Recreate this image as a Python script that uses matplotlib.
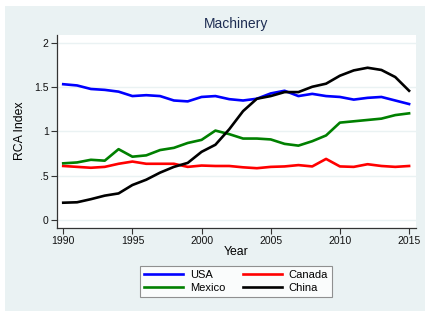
import matplotlib
matplotlib.use("Agg")
from matplotlib import pyplot as plt
from matplotlib.patches import Rectangle

years = list(range(1990, 2016))
usa = [1.534, 1.52, 1.48, 1.47, 1.45, 1.40, 1.41, 1.40, 1.35, 1.34, 1.39, 1.40, 1.365,
       1.35, 1.37, 1.43, 1.46, 1.40, 1.425, 1.40, 1.39, 1.36, 1.38, 1.39, 1.35, 1.31]
canada = [0.61, 0.60, 0.59, 0.60, 0.635, 0.66, 0.635, 0.635, 0.635, 0.60, 0.615, 0.61, 0.61,
          0.595, 0.585, 0.60, 0.605, 0.62, 0.605, 0.69, 0.605, 0.60, 0.63, 0.61, 0.60, 0.61]
mexico = [0.64, 0.65, 0.68, 0.67, 0.80, 0.715, 0.73, 0.79, 0.815, 0.87, 0.905, 1.01, 0.97,
          0.92, 0.92, 0.91, 0.86, 0.84, 0.89, 0.955, 1.10, 1.115, 1.13, 1.145, 1.185, 1.205]
china = [0.195, 0.20, 0.235, 0.275, 0.30, 0.395, 0.455, 0.535, 0.60, 0.645, 0.77, 0.85, 1.025,
         1.23, 1.37, 1.40, 1.445, 1.445, 1.505, 1.54, 1.63, 1.69, 1.72, 1.695, 1.615, 1.46]

yticks = [0, 0.5, 1, 1.5, 2]
ylabels = ["0", ".5", "1", "1.5", "2"]
xticks = [1990, 1995, 2000, 2005, 2010, 2015]

plt.rcParams['font.family'] = ['Liberation Sans', 'DejaVu Sans']
bg = '#EAF2F3'

W, H = 425, 311
fig = plt.figure(figsize=(W / 100, H / 100), dpi=100, facecolor='white')
fig.patches.append(Rectangle((5 / W, 0), 1 - 5 / W, 1 - 6 / H, transform=fig.transFigure,
                             facecolor=bg, edgecolor='none', zorder=-10))

ax = fig.add_axes([57 / W, 1 - 227.5 / H, (416 - 57) / W, (227.5 - 35) / H])
ax.set_facecolor('white')

for yv in yticks:
    ax.axhline(yv, color=bg, lw=1.0, zorder=0)

lw = 1.9
ax.plot(years, usa, color='#0000FF', lw=lw, label='USA')
ax.plot(years, canada, color='#FF0000', lw=lw, label='Canada')
ax.plot(years, mexico, color='#008000', lw=lw, label='Mexico')
ax.plot(years, china, color='black', lw=lw, label='China')

ax.set_xlim(1989.55, 2015.5)
ax.set_ylim(-0.085, 2.09)
ax.set_yticks(yticks)
ax.set_yticklabels(ylabels)
ax.set_xticks(xticks)

for s in ['top', 'right']:
    ax.spines[s].set_visible(False)
for s in ['left', 'bottom']:
    ax.spines[s].set_color('#333333')
    ax.spines[s].set_linewidth(0.9)
ax.tick_params(axis='both', length=4, width=0.8, color='#333333', labelsize=7.5,
               labelcolor='#111111', pad=2)

ax.set_title('Machinery', fontsize=10, color='#1E2D53', pad=5)
ax.set_xlabel('Year', fontsize=8.8, labelpad=0)
ax.set_ylabel('RCA Index', fontsize=8.8, labelpad=6)

handles, labels = ax.get_legend_handles_labels()
order = [0, 2, 1, 3]
leg = fig.legend([handles[i] for i in order], [labels[i] for i in order], ncol=2,
                 loc='center', bbox_to_anchor=(236 / W, 1 - 281.3 / H), fontsize=8,
                 frameon=True, fancybox=False, edgecolor='#777777', handlelength=3.5,
                 columnspacing=1.6, handletextpad=0.6, borderpad=0.35, labelspacing=0.3)
leg.get_frame().set_linewidth(0.8)

fig.savefig('out.png', dpi=100, facecolor='white')
